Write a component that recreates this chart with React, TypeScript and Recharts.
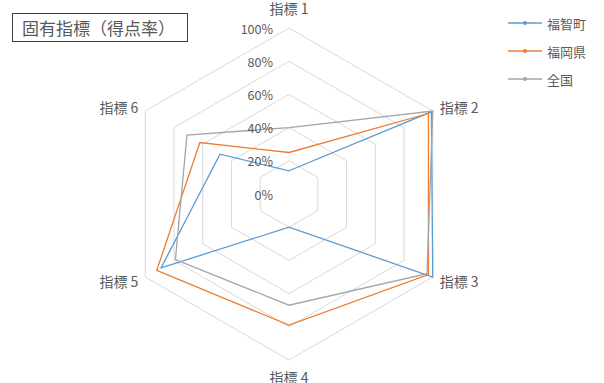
import { RadarChart, Radar, PolarGrid, PolarAngleAxis, PolarRadiusAxis, Legend } from "recharts";

const indicators = ["指標 1", "指標 2", "指標 3", "指標 4", "指標 5", "指標 6"];
const fukuchi = [14, 99, 100, 20, 89, 48];
const fukuoka = [25, 97, 97, 79, 92, 62];
const zenkoku = [40, 100, 96, 67, 79, 71];
const radiusTicks = [0, 20, 40, 60, 80, 100];

const seriesList = [
  { key: "福智町", color: "#5b9bd5", values: fukuchi },
  { key: "福岡県", color: "#ed7d31", values: fukuoka },
  { key: "全国", color: "#a5a5a5", values: zenkoku },
];

const chartData = indicators.map((name, i) => {
  const row: Record<string, string | number> = { name };
  seriesList.forEach((s) => {
    row[s.key] = s.values[i];
  });
  return row;
});

const FONT = '"Noto Sans CJK JP", "Noto Sans", sans-serif';
const TEXT = "#595959";

const AngleTick = (props: any) => {
  const { x, y, payload, textAnchor } = props;
  const idx = indicators.indexOf(payload.value);
  let dy = 0;
  if (idx === 0) dy = -12;
  if (idx === 3) dy = 9;
  return (
    <text
      x={x}
      y={y + dy}
      textAnchor={textAnchor}
      dominantBaseline="central"
      fill={TEXT}
      fontSize={14}
      fontFamily={FONT}
    >
      {payload.value}
    </text>
  );
};

const RadiusTick = (props: any) => {
  const { x, y, payload } = props;
  return (
    <text
      x={x - 16}
      y={y}
      textAnchor="end"
      dominantBaseline="central"
      fill={TEXT}
      fontSize={12.5}
      fontFamily={FONT}
    >
      {`${payload.value}%`}
    </text>
  );
};

const LegendBox = () => (
  <div style={{ fontFamily: FONT, fontSize: 13, color: TEXT }}>
    {seriesList.map((s) => (
      <div key={s.key} style={{ display: "flex", alignItems: "center", height: 28 }}>
        <svg width={36} height={10} style={{ marginRight: 3 }}>
          <line x1={0} y1={5} x2={34} y2={5} stroke={s.color} strokeWidth={1.3} />
          <circle cx={17} cy={5} r={2} fill={s.color} />
        </svg>
        <span>{s.key}</span>
      </div>
    ))}
  </div>
);

const App = () => {
  return (
    <div style={{ position: "absolute", left: 0, top: 0, width: 604, height: 383, background: "#fff" }}>
      <div
        style={{
          position: "absolute",
          left: 12,
          top: 13,
          width: 165,
          height: 27,
          border: "1.5px solid #404040",
          fontFamily: FONT,
          fontSize: 17,
          color: TEXT,
          lineHeight: "27px",
          paddingLeft: 9,
          boxSizing: "content-box",
          zIndex: 2,
        }}
      >
        固有指標（得点率）
      </div>
      <RadarChart width={604} height={383} cx={289} cy={194} outerRadius={166} data={chartData}>
        <PolarGrid gridType="polygon" radialLines={false} stroke="#d9d9d9" strokeWidth={1} />
        <PolarAngleAxis dataKey="name" tick={<AngleTick />} tickLine={false} axisLine={false} />
        <PolarRadiusAxis
          angle={90}
          domain={[0, 100]}
          ticks={radiusTicks}
          tick={<RadiusTick />}
          axisLine={false}
          tickLine={false}
          tickCount={6}
        />
        {seriesList.map((s) => (
          <Radar
            key={s.key}
            name={s.key}
            dataKey={s.key}
            stroke={s.color}
            strokeWidth={1.3}
            fill="none"
            fillOpacity={0}
            dot={{ r: 2, fill: s.color, stroke: s.color, strokeWidth: 0 }}
            isAnimationActive={false}
          />
        ))}
        <Legend
          content={<LegendBox />}
          wrapperStyle={{ position: "absolute", left: 508, top: 9, width: 90 }}
        />
      </RadarChart>
    </div>
  );
};

export default App;
